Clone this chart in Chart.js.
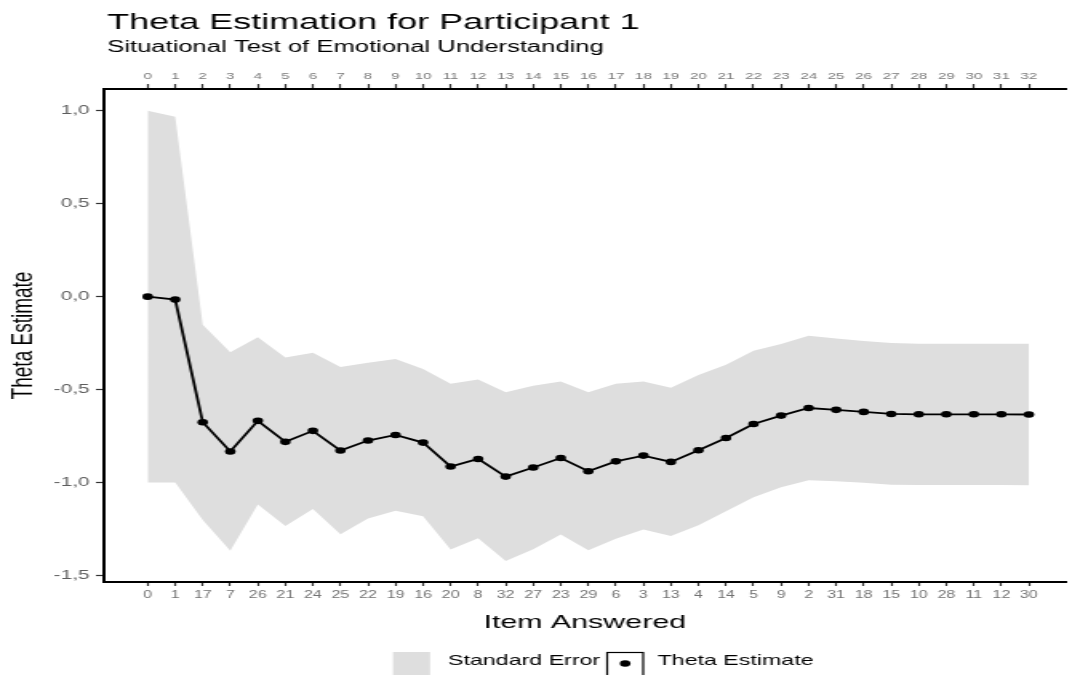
<!DOCTYPE html>
<html>
<head>
<meta charset="utf-8">
<script src="https://cdn.jsdelivr.net/npm/chart.js@4"></script>
<style>
  html, body { margin: 0; padding: 0; background: #fff; overflow: hidden; }
  /* the figure is laid out at 670px wide and widened to 1072px */
  #wrap { position: absolute; left: 0; top: 0; width: 670px; height: 675px;
          transform: scaleX(1.6); transform-origin: 0 0; }
</style>
</head>
<body>
<div id="wrap"><canvas id="c"></canvas></div>
<script>
// Order in which items were answered (top axis) and item number (bottom axis)
const answerOrder  = ['0','1','2','3','4','5','6','7','8','9','10','11','12','13','14','15','16',
                      '17','18','19','20','21','22','23','24','25','26','27','28','29','30','31','32'];
const itemAnswered = ['0','1','17','7','26','21','24','25','22','19','16','20','8','32','27','23','29',
                      '6','3','13','4','14','5','9','2','31','18','15','10','28','11','12','30'];

// Theta estimate after each answer and its standard error
const thetaEstimate = [0.000, -0.016, -0.676, -0.833, -0.668, -0.781, -0.722, -0.828, -0.774, -0.744,
                       -0.785, -0.914, -0.873, -0.968, -0.919, -0.868, -0.939, -0.886, -0.855, -0.889,
                       -0.826, -0.760, -0.685, -0.640, -0.599, -0.609, -0.620, -0.631, -0.633, -0.633,
                       -0.633, -0.633, -0.634];
const standardError = [1.000, 0.984, 0.525, 0.534, 0.450, 0.453, 0.420, 0.450, 0.419, 0.408,
                       0.396, 0.446, 0.427, 0.454, 0.440, 0.412, 0.425, 0.417, 0.398, 0.399,
                       0.404, 0.394, 0.394, 0.385, 0.388, 0.384, 0.381, 0.381, 0.380, 0.380,
                       0.380, 0.380, 0.380];

const yTickValues = [-1.5, -1.0, -0.5, 0.0, 0.5, 1.0];

const titleText    = 'Theta Estimation for Participant 1';
const subtitleText = 'Situational Test of Emotional Understanding';
const legendSE     = 'Standard Error';
const legendTheta  = 'Theta Estimate';

const FONT = '"Liberation Sans", Arial, Helvetica, sans-serif';
const BAND = 'rgb(222,222,222)';

const thetaPts = thetaEstimate.map((v, i) => ({ x: i, y: v }));
const upperPts = thetaEstimate.map((v, i) => ({ x: i, y: v + standardError[i] }));
const lowerPts = thetaEstimate.map((v, i) => ({ x: i, y: v - standardError[i] }));

const X_MIN = -1.587, X_MAX = 33.33;
const itemTicks = scale => { scale.ticks = itemAnswered.map((_, i) => ({ value: i })); };

// Title, subtitle and the legend keys under the axis title
const headerAndKey = {
  id: 'headerAndKey',
  afterDraw(chart) {
    const ctx = chart.ctx;
    ctx.save();
    ctx.fillStyle = '#000';
    ctx.textAlign = 'left';
    ctx.textBaseline = 'alphabetic';
    ctx.font = '22.5px ' + FONT;
    ctx.fillText(titleText, 67, 29);
    ctx.font = '16px ' + FONT;
    ctx.fillText(subtitleText, 67, 51.5);

    // legend: band swatch
    ctx.fillStyle = BAND;
    ctx.fillRect(245.6, 652, 23.2, 24);
    ctx.fillStyle = '#000';
    ctx.font = '14.5px ' + FONT;
    ctx.fillText(legendSE, 280, 665);
    // legend: point key in a framed box
    ctx.strokeStyle = '#000';
    ctx.lineWidth = 1.2;
    ctx.strokeRect(379.5, 652.5, 22.5, 24);
    ctx.beginPath();
    ctx.arc(390.75, 663.5, 3.3, 0, Math.PI * 2);
    ctx.fill();
    ctx.fillText(legendTheta, 411, 665);
    ctx.restore();
  }
};

new Chart(document.getElementById('c'), {
  type: 'line',
  data: {
    datasets: [
      {
        label: legendTheta,
        data: thetaPts,
        borderColor: '#000',
        backgroundColor: '#000',
        borderWidth: 1.8,
        pointRadius: 3.3,
        pointBorderWidth: 0,
        pointBackgroundColor: '#000',
        tension: 0,
        fill: false,
        order: 0
      },
      {
        label: 'upper',
        data: upperPts,
        borderWidth: 0,
        pointRadius: 0,
        fill: false,
        order: 1
      },
      {
        label: legendSE,
        data: lowerPts,
        borderWidth: 0,
        pointRadius: 0,
        backgroundColor: BAND,
        fill: '-1',
        order: 2
      }
    ]
  },
  options: {
    responsive: true,
    maintainAspectRatio: false,
    animation: false,
    devicePixelRatio: 1,
    layout: { padding: 0 },
    plugins: {
      legend: { display: false },
      tooltip: { enabled: false },
      title: { display: false }
    },
    scales: {
      x: {
        type: 'linear',
        position: 'bottom',
        min: X_MIN,
        max: X_MAX,
        afterBuildTicks: itemTicks,
        afterFit: s => { s.height = 93; },
        ticks: {
          autoSkip: false, maxRotation: 0, minRotation: 0,
          padding: 3,
          color: '#727272',
          font: { family: FONT, size: 10 },
          callback: v => itemAnswered[v]
        },
        grid: { display: true, drawOnChartArea: false, drawTicks: true, tickLength: 4,
                tickWidth: 1.2, tickColor: '#333' },
        border: { display: true, color: '#000', width: 2 },
        title: { display: true, text: 'Item Answered', color: '#000',
                 font: { family: FONT, size: 19 }, padding: { top: 0, bottom: 41 } }
      },
      x2: {
        type: 'linear',
        position: 'top',
        min: X_MIN,
        max: X_MAX,
        afterBuildTicks: itemTicks,
        afterFit: s => { s.height = 89; },
        ticks: {
          autoSkip: false, maxRotation: 0, minRotation: 0,
          padding: 2,
          color: '#7a7a7a',
          font: { family: FONT, size: 9.5 },
          callback: v => answerOrder[v]
        },
        grid: { display: true, drawOnChartArea: false, drawTicks: true, tickLength: 5,
                tickWidth: 1.2, tickColor: '#333' },
        border: { display: true, color: '#000', width: 2 }
      },
      y: {
        type: 'linear',
        position: 'left',
        min: -1.535,
        max: 1.117,
        afterBuildTicks: s => { s.ticks = yTickValues.map(v => ({ value: v })); },
        afterFit: s => { s.width = 65; },
        ticks: {
          padding: 4,
          color: '#5e5e5e',
          font: { family: FONT, size: 13 },
          callback: v => v.toFixed(1).replace('.', ',')
        },
        grid: { display: true, drawOnChartArea: false, drawTicks: true, tickLength: 5,
                tickWidth: 1.2, tickColor: '#333' },
        border: { display: true, color: '#000', width: 2 },
        title: { display: true, text: 'Theta Estimate', color: '#000',
                 font: { family: FONT, size: 19 }, padding: { top: 3, bottom: 0 } }
      }
    }
  },
  plugins: [headerAndKey]
});
</script>
</body>
</html>
